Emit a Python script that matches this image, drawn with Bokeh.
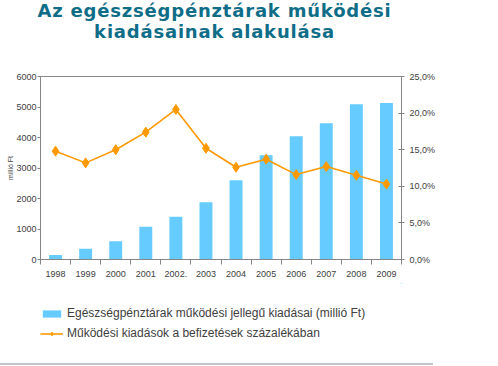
from bokeh.plotting import figure
from bokeh.models import (Range1d, LinearAxis, FixedTicker, Legend, LegendItem,
                          Title, ColumnDataSource, Div)
from bokeh.layouts import column
from bokeh.embed import file_html
from bokeh.resources import INLINE

# ---- data ----
years = ["1998", "1999", "2000", "2001", "2002.", "2003", "2004", "2005",
         "2006", "2007", "2008", "2009"]
expenses = [150, 350, 600, 1070, 1400, 1880, 2600, 3420, 4040, 4470, 5090, 5130]
share_pct = [14.8, 13.2, 15.0, 17.4, 20.5, 15.2, 12.6, 13.7, 11.6, 12.7, 11.5, 10.3]
left_ticks = [0, 1000, 2000, 3000, 4000, 5000, 6000]
right_ticks = [0, 5, 10, 15, 20, 25]
right_labels = ["0,0%", "5,0%", "10,0%", "15,0%", "20,0%", "25,0%"]
title_lines = ["Az egészségpénztárak működési", "kiadásainak alakulása"]
y_label = "millió Ft"
legend_bar = "Egészségpénztárak működési jellegű kiadásai (millió Ft)"
legend_line = "Működési kiadások a befizetések százalékában"

xs = list(range(len(years)))
src = ColumnDataSource(dict(x=xs, year=years, exp=expenses, pct=share_pct))

AXIS_COL = "#868686"
TXT_COL = "#404040"
BAR_COL = "#66CCFF"
LINE_COL = "#FF9900"
TITLE_COL = "#0F6D88"

# ---- title block ----
title_div = Div(
    text=('<div style="width:429px;text-align:center;font-family:\'DejaVu Sans\';'
          'font-weight:bold;font-size:18px;line-height:21px;letter-spacing:0.8px;'
          'color:%s;margin:0;padding:0;white-space:nowrap;">%s<br>%s</div>')
    % (TITLE_COL, title_lines[0], title_lines[1]),
    width=498, height=70, margin=0)

# ---- main chart ----
p = figure(frame_width=361, frame_height=183, output_backend="svg",
           toolbar_location=None,
           x_range=Range1d(-0.5, len(years) - 0.5), y_range=Range1d(0, 6000),
           min_border_left=38, min_border_right=97, min_border_top=6,
           min_border_bottom=24, title=None)
p.extra_y_ranges = {"pct": Range1d(0, 25)}
p.xgrid.visible = False
p.ygrid.visible = False
p.outline_line_color = AXIS_COL
p.background_fill_color = "white"
p.border_fill_color = "white"

# x axis: labels at category centres, ticks at category boundaries
xa = p.xaxis[0]
xa.ticker = FixedTicker(ticks=xs, minor_ticks=[i - 0.5 for i in range(len(years) + 1)])
xa.major_label_overrides = {i: y for i, y in enumerate(years)}
xa.major_tick_in = 0
xa.major_tick_out = 0
xa.minor_tick_in = 0
xa.minor_tick_out = 5
xa.minor_tick_line_color = AXIS_COL
xa.axis_line_color = AXIS_COL
xa.major_label_text_font = "Liberation Sans"
xa.major_label_text_font_size = "9px"
xa.major_label_text_color = TXT_COL
xa.major_label_standoff = 6

ya = p.yaxis[0]
ya.ticker = FixedTicker(ticks=left_ticks)
ya.minor_tick_line_color = None
ya.major_tick_in = 0
ya.major_tick_out = 3
ya.major_tick_line_color = AXIS_COL
ya.axis_line_color = AXIS_COL
ya.major_label_text_font = "Liberation Sans"
ya.major_label_text_font_size = "9px"
ya.major_label_text_color = TXT_COL
ya.major_label_standoff = 1

ra = LinearAxis(y_range_name="pct", ticker=FixedTicker(ticks=right_ticks),
                major_label_overrides={t: l for t, l in zip(right_ticks, right_labels)})
ra.minor_tick_line_color = None
ra.major_tick_in = 3
ra.major_tick_out = 3
ra.major_tick_line_color = AXIS_COL
ra.axis_line_color = AXIS_COL
ra.major_label_text_font = "Liberation Sans"
ra.major_label_text_font_size = "9px"
ra.major_label_text_color = TXT_COL
ra.major_label_standoff = 5
p.add_layout(ra, "right")

p.vbar(x="x", top="exp", width=0.43, source=src, fill_color=BAR_COL, line_color=None)
p.line(x="x", y="pct", source=src, y_range_name="pct", line_color=LINE_COL,
       line_width=1.6)
p.scatter(x="x", y="pct", source=src, y_range_name="pct", marker="diamond",
          size=10, fill_color=LINE_COL, line_color=LINE_COL)

# vertical axis label
p.add_layout(Title(text=y_label, align="center", standoff=0,
                   text_font="Liberation Sans", text_font_style="normal",
                   text_font_size="7px", text_color=TXT_COL), "left")

# ---- legend strip: same series/styles, data kept outside its visible range ----
lg = figure(frame_width=361, height=80, output_backend="svg", toolbar_location=None,
            x_range=Range1d(-100, -99), y_range=Range1d(-100, -99),
            x_axis_type=None, y_axis_type=None, title=None,
            min_border_left=40, min_border_right=97, min_border_top=0,
            min_border_bottom=0)
lg.outline_line_color = None
lb = lg.vbar(x="x", top="exp", width=0.43, source=src, fill_color=BAR_COL,
             line_color=None)
ll = lg.line(x="x", y="pct", source=src, line_color=LINE_COL, line_width=1.6)
lp = lg.scatter(x="x", y="pct", source=src, marker="diamond", size=10,
                fill_color=LINE_COL, line_color=LINE_COL)
legend = Legend(items=[LegendItem(label=legend_bar, renderers=[lb]),
                       LegendItem(label=legend_line, renderers=[ll, lp])],
                location=(0, 23), orientation="vertical",
                padding=0, margin=0, spacing=6,
                glyph_width=23, glyph_height=9, label_height=14,
                label_standoff=4, border_line_alpha=0,
                background_fill_alpha=0,
                label_text_font="Liberation Sans", label_text_font_size="12px",
                label_text_color=TXT_COL)
lg.add_layout(legend, "center")

rule = Div(text="", width=433, height=2, margin=0,
           styles={"background-color": "#C0C4C8"})

open("out.html", "w").write(
    file_html(column(title_div, p, lg, rule, spacing=0), INLINE))
